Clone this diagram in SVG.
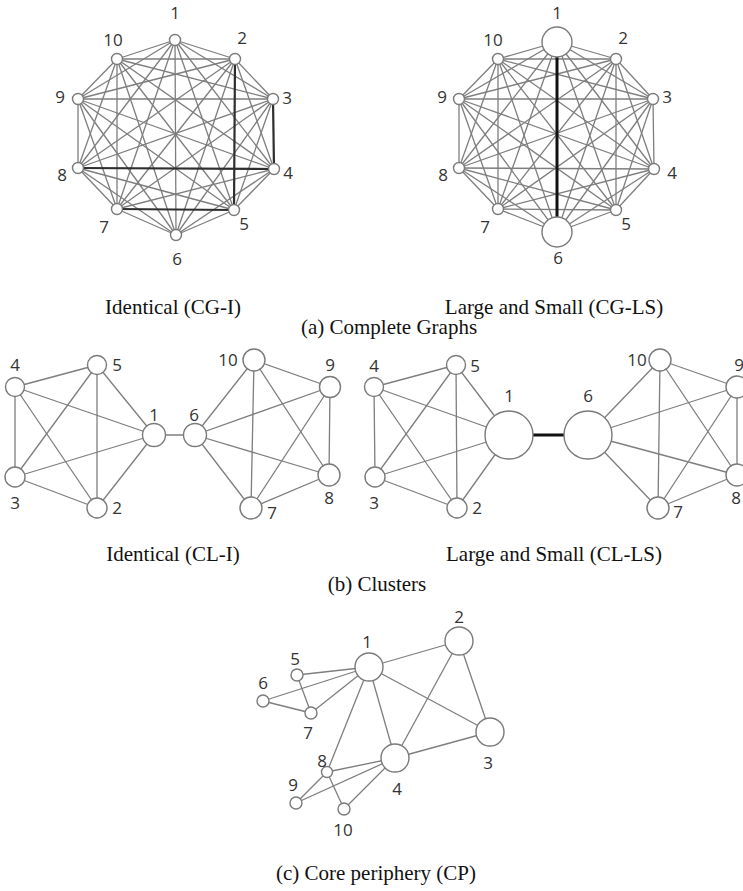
<svg xmlns="http://www.w3.org/2000/svg" width="743" height="891" viewBox="0 0 743 891">
<style>
  .e{stroke:#7e7e7e;stroke-width:1.3;fill:none}
  .ed{stroke:#2e2e2e;stroke-width:2.2;fill:none}
  .eb{stroke:#111;stroke-width:3;fill:none}
  .n{fill:#fff;stroke:#7a7a7a;stroke-width:1.4}
  .lb{font-family:"Open Sans","DejaVu Sans",sans-serif;font-size:17px;fill:#333;text-anchor:middle}
  .cap{font-family:"Liberation Serif","Times New Roman",serif;font-size:21px;fill:#111;text-anchor:middle}
</style>
<rect width="743" height="891" fill="#fff"/>

<!-- (a) complete graph, identical nodes -->
<g id="cgi-edges">
  <line class="e" x1="175" y1="40" x2="235" y2="59"/>
  <line class="e" x1="175" y1="40" x2="273" y2="99"/>
  <line class="e" x1="175" y1="40" x2="274" y2="169"/>
  <line class="e" x1="175" y1="40" x2="234" y2="210"/>
  <line class="e" x1="175" y1="40" x2="176" y2="235"/>
  <line class="e" x1="175" y1="40" x2="117" y2="209"/>
  <line class="e" x1="175" y1="40" x2="78" y2="168"/>
  <line class="e" x1="175" y1="40" x2="78" y2="99"/>
  <line class="e" x1="175" y1="40" x2="117" y2="59"/>
  <line class="e" x1="235" y1="59" x2="273" y2="99"/>
  <line class="e" x1="235" y1="59" x2="274" y2="169"/>
  <line class="e" x1="235" y1="59" x2="176" y2="235"/>
  <line class="e" x1="235" y1="59" x2="117" y2="209"/>
  <line class="e" x1="235" y1="59" x2="78" y2="168"/>
  <line class="e" x1="235" y1="59" x2="78" y2="99"/>
  <line class="e" x1="235" y1="59" x2="117" y2="59"/>
  <line class="e" x1="273" y1="99" x2="234" y2="210"/>
  <line class="e" x1="273" y1="99" x2="176" y2="235"/>
  <line class="e" x1="273" y1="99" x2="117" y2="209"/>
  <line class="e" x1="273" y1="99" x2="78" y2="168"/>
  <line class="e" x1="273" y1="99" x2="78" y2="99"/>
  <line class="e" x1="273" y1="99" x2="117" y2="59"/>
  <line class="e" x1="274" y1="169" x2="234" y2="210"/>
  <line class="e" x1="274" y1="169" x2="176" y2="235"/>
  <line class="e" x1="274" y1="169" x2="117" y2="209"/>
  <line class="e" x1="274" y1="169" x2="78" y2="99"/>
  <line class="e" x1="274" y1="169" x2="117" y2="59"/>
  <line class="e" x1="234" y1="210" x2="176" y2="235"/>
  <line class="e" x1="234" y1="210" x2="78" y2="168"/>
  <line class="e" x1="234" y1="210" x2="78" y2="99"/>
  <line class="e" x1="234" y1="210" x2="117" y2="59"/>
  <line class="e" x1="176" y1="235" x2="117" y2="209"/>
  <line class="e" x1="176" y1="235" x2="78" y2="168"/>
  <line class="e" x1="176" y1="235" x2="78" y2="99"/>
  <line class="e" x1="176" y1="235" x2="117" y2="59"/>
  <line class="e" x1="117" y1="209" x2="78" y2="168"/>
  <line class="e" x1="117" y1="209" x2="78" y2="99"/>
  <line class="e" x1="117" y1="209" x2="117" y2="59"/>
  <line class="e" x1="78" y1="168" x2="78" y2="99"/>
  <line class="e" x1="78" y1="168" x2="117" y2="59"/>
  <line class="e" x1="78" y1="99" x2="117" y2="59"/>
  <line class="ed" x1="235" y1="59" x2="234" y2="210"/>
  <line class="ed" x1="273" y1="99" x2="274" y2="169"/>
  <line class="ed" x1="274" y1="169" x2="78" y2="168"/>
  <line class="ed" x1="234" y1="210" x2="117" y2="209"/>
</g>
<g id="cgi-n1"><circle class="n" cx="175" cy="40" r="5.5"/><text class="lb" x="175" y="19">1</text></g>
<g id="cgi-n2"><circle class="n" cx="235" cy="59" r="5.5"/><text class="lb" x="242" y="44">2</text></g>
<g id="cgi-n3"><circle class="n" cx="273" cy="99" r="5.5"/><text class="lb" x="287" y="104">3</text></g>
<g id="cgi-n4"><circle class="n" cx="274" cy="169" r="5.5"/><text class="lb" x="288" y="179">4</text></g>
<g id="cgi-n5"><circle class="n" cx="234" cy="210" r="5.5"/><text class="lb" x="244" y="230">5</text></g>
<g id="cgi-n6"><circle class="n" cx="176" cy="235" r="5.5"/><text class="lb" x="177" y="265">6</text></g>
<g id="cgi-n7"><circle class="n" cx="117" cy="209" r="5.5"/><text class="lb" x="104" y="233">7</text></g>
<g id="cgi-n8"><circle class="n" cx="78" cy="168" r="5.5"/><text class="lb" x="62" y="181">8</text></g>
<g id="cgi-n9"><circle class="n" cx="78" cy="99" r="5.5"/><text class="lb" x="60" y="103">9</text></g>
<g id="cgi-n10"><circle class="n" cx="117" cy="59" r="5.5"/><text class="lb" x="113" y="46">10</text></g>

<!-- (a) complete graph, large and small nodes -->
<g id="cgls-edges">
  <line class="e" x1="557" y1="42" x2="616" y2="59"/>
  <line class="e" x1="557" y1="42" x2="653" y2="99"/>
  <line class="e" x1="557" y1="42" x2="654" y2="169"/>
  <line class="e" x1="557" y1="42" x2="616" y2="210"/>
  <line class="e" x1="557" y1="42" x2="498" y2="209"/>
  <line class="e" x1="557" y1="42" x2="459" y2="168"/>
  <line class="e" x1="557" y1="42" x2="459" y2="99"/>
  <line class="e" x1="557" y1="42" x2="498" y2="59"/>
  <line class="e" x1="616" y1="59" x2="653" y2="99"/>
  <line class="e" x1="616" y1="59" x2="654" y2="169"/>
  <line class="e" x1="616" y1="59" x2="616" y2="210"/>
  <line class="e" x1="616" y1="59" x2="557" y2="232"/>
  <line class="e" x1="616" y1="59" x2="498" y2="209"/>
  <line class="e" x1="616" y1="59" x2="459" y2="168"/>
  <line class="e" x1="616" y1="59" x2="459" y2="99"/>
  <line class="e" x1="616" y1="59" x2="498" y2="59"/>
  <line class="e" x1="653" y1="99" x2="654" y2="169"/>
  <line class="e" x1="653" y1="99" x2="616" y2="210"/>
  <line class="e" x1="653" y1="99" x2="557" y2="232"/>
  <line class="e" x1="653" y1="99" x2="498" y2="209"/>
  <line class="e" x1="653" y1="99" x2="459" y2="168"/>
  <line class="e" x1="653" y1="99" x2="459" y2="99"/>
  <line class="e" x1="653" y1="99" x2="498" y2="59"/>
  <line class="e" x1="654" y1="169" x2="616" y2="210"/>
  <line class="e" x1="654" y1="169" x2="557" y2="232"/>
  <line class="e" x1="654" y1="169" x2="498" y2="209"/>
  <line class="e" x1="654" y1="169" x2="459" y2="168"/>
  <line class="e" x1="654" y1="169" x2="459" y2="99"/>
  <line class="e" x1="654" y1="169" x2="498" y2="59"/>
  <line class="e" x1="616" y1="210" x2="557" y2="232"/>
  <line class="e" x1="616" y1="210" x2="498" y2="209"/>
  <line class="e" x1="616" y1="210" x2="459" y2="168"/>
  <line class="e" x1="616" y1="210" x2="459" y2="99"/>
  <line class="e" x1="616" y1="210" x2="498" y2="59"/>
  <line class="e" x1="557" y1="232" x2="498" y2="209"/>
  <line class="e" x1="557" y1="232" x2="459" y2="168"/>
  <line class="e" x1="557" y1="232" x2="459" y2="99"/>
  <line class="e" x1="557" y1="232" x2="498" y2="59"/>
  <line class="e" x1="498" y1="209" x2="459" y2="168"/>
  <line class="e" x1="498" y1="209" x2="459" y2="99"/>
  <line class="e" x1="498" y1="209" x2="498" y2="59"/>
  <line class="e" x1="459" y1="168" x2="459" y2="99"/>
  <line class="e" x1="459" y1="168" x2="498" y2="59"/>
  <line class="e" x1="459" y1="99" x2="498" y2="59"/>
  <line class="eb" x1="557" y1="42" x2="557" y2="232"/>
</g>
<g id="cgls-n1"><circle class="n" cx="557" cy="42" r="15"/><text class="lb" x="557" y="19">1</text></g>
<g id="cgls-n2"><circle class="n" cx="616" cy="59" r="5.5"/><text class="lb" x="623" y="44">2</text></g>
<g id="cgls-n3"><circle class="n" cx="653" cy="99" r="5.5"/><text class="lb" x="667" y="103">3</text></g>
<g id="cgls-n4"><circle class="n" cx="654" cy="169" r="5.5"/><text class="lb" x="672" y="179">4</text></g>
<g id="cgls-n5"><circle class="n" cx="616" cy="210" r="5.5"/><text class="lb" x="626" y="230">5</text></g>
<g id="cgls-n6"><circle class="n" cx="557" cy="232" r="15"/><text class="lb" x="558" y="264">6</text></g>
<g id="cgls-n7"><circle class="n" cx="498" cy="209" r="5.5"/><text class="lb" x="485" y="233">7</text></g>
<g id="cgls-n8"><circle class="n" cx="459" cy="168" r="5.5"/><text class="lb" x="443" y="181">8</text></g>
<g id="cgls-n9"><circle class="n" cx="459" cy="99" r="5.5"/><text class="lb" x="442" y="103">9</text></g>
<g id="cgls-n10"><circle class="n" cx="498" cy="59" r="5.5"/><text class="lb" x="493" y="46">10</text></g>

<text class="cap" x="173" y="314">Identical (CG-I)</text>
<text class="cap" x="554" y="314">Large and Small (CG-LS)</text>
<text class="cap" x="389" y="334">(a) Complete Graphs</text>

<!-- (b) clusters, identical nodes -->
<g id="cli-edges">
  <line class="e" x1="15" y1="387" x2="97" y2="365"/>
  <line class="e" x1="15" y1="387" x2="154" y2="435"/>
  <line class="e" x1="15" y1="387" x2="15" y2="477"/>
  <line class="e" x1="15" y1="387" x2="97" y2="508"/>
  <line class="e" x1="97" y1="365" x2="154" y2="435"/>
  <line class="e" x1="97" y1="365" x2="15" y2="477"/>
  <line class="e" x1="97" y1="365" x2="97" y2="508"/>
  <line class="e" x1="15" y1="477" x2="154" y2="435"/>
  <line class="e" x1="15" y1="477" x2="97" y2="508"/>
  <line class="e" x1="97" y1="508" x2="154" y2="435"/>
  <line class="e" x1="154" y1="435" x2="195" y2="435"/>
  <line class="e" x1="254" y1="360" x2="330" y2="387"/>
  <line class="e" x1="254" y1="360" x2="195" y2="435"/>
  <line class="e" x1="254" y1="360" x2="251" y2="508"/>
  <line class="e" x1="254" y1="360" x2="329" y2="475"/>
  <line class="e" x1="330" y1="387" x2="195" y2="435"/>
  <line class="e" x1="330" y1="387" x2="251" y2="508"/>
  <line class="e" x1="330" y1="387" x2="329" y2="475"/>
  <line class="e" x1="195" y1="435" x2="329" y2="475"/>
  <line class="e" x1="195" y1="435" x2="251" y2="508"/>
  <line class="e" x1="251" y1="508" x2="329" y2="475"/>
</g>
<g id="cli-n4"><circle class="n" cx="15" cy="387" r="9.5"/><text class="lb" x="15" y="371">4</text></g>
<g id="cli-n5"><circle class="n" cx="97" cy="365" r="9.5"/><text class="lb" x="117" y="371">5</text></g>
<g id="cli-n1"><circle class="n" cx="154" cy="435" r="11.5"/><text class="lb" x="154" y="421">1</text></g>
<g id="cli-n6"><circle class="n" cx="195" cy="435" r="11.5"/><text class="lb" x="194" y="421">6</text></g>
<g id="cli-n10"><circle class="n" cx="254" cy="360" r="11"/><text class="lb" x="228" y="366">10</text></g>
<g id="cli-n9"><circle class="n" cx="330" cy="387" r="10.5"/><text class="lb" x="330" y="371">9</text></g>
<g id="cli-n3"><circle class="n" cx="15" cy="477" r="10"/><text class="lb" x="15" y="509">3</text></g>
<g id="cli-n2"><circle class="n" cx="97" cy="508" r="10"/><text class="lb" x="117" y="514">2</text></g>
<g id="cli-n7"><circle class="n" cx="251" cy="508" r="11"/><text class="lb" x="272" y="519">7</text></g>
<g id="cli-n8"><circle class="n" cx="329" cy="475" r="11"/><text class="lb" x="329" y="504">8</text></g>

<!-- (b) clusters, large and small nodes -->
<g id="clls-edges">
  <line class="e" x1="374" y1="387" x2="456" y2="365"/>
  <line class="e" x1="374" y1="387" x2="509" y2="435"/>
  <line class="e" x1="374" y1="387" x2="375" y2="477"/>
  <line class="e" x1="374" y1="387" x2="457" y2="508"/>
  <line class="e" x1="456" y1="365" x2="509" y2="435"/>
  <line class="e" x1="456" y1="365" x2="375" y2="477"/>
  <line class="e" x1="456" y1="365" x2="457" y2="508"/>
  <line class="e" x1="375" y1="477" x2="509" y2="435"/>
  <line class="e" x1="375" y1="477" x2="457" y2="508"/>
  <line class="e" x1="457" y1="508" x2="509" y2="435"/>
  <line class="e" x1="660" y1="360" x2="737" y2="387"/>
  <line class="e" x1="660" y1="360" x2="588" y2="435"/>
  <line class="e" x1="660" y1="360" x2="658" y2="508"/>
  <line class="e" x1="660" y1="360" x2="737" y2="475"/>
  <line class="e" x1="737" y1="387" x2="588" y2="435"/>
  <line class="e" x1="737" y1="387" x2="658" y2="508"/>
  <line class="e" x1="737" y1="387" x2="737" y2="475"/>
  <line class="e" x1="588" y1="435" x2="737" y2="475"/>
  <line class="e" x1="588" y1="435" x2="658" y2="508"/>
  <line class="e" x1="658" y1="508" x2="737" y2="475"/>
  <line class="eb" x1="509" y1="435" x2="588" y2="435"/>
</g>
<g id="clls-n4"><circle class="n" cx="374" cy="387" r="9.5"/><text class="lb" x="374" y="372">4</text></g>
<g id="clls-n5"><circle class="n" cx="456" cy="365" r="9.5"/><text class="lb" x="475" y="372">5</text></g>
<g id="clls-n1"><circle class="n" cx="509" cy="435" r="24"/><text class="lb" x="509" y="402">1</text></g>
<g id="clls-n6"><circle class="n" cx="588" cy="435" r="24"/><text class="lb" x="588" y="402">6</text></g>
<g id="clls-n10"><circle class="n" cx="660" cy="360" r="11"/><text class="lb" x="637" y="366">10</text></g>
<g id="clls-n9"><circle class="n" cx="737" cy="387" r="11"/><text class="lb" x="739" y="371">9</text></g>
<g id="clls-n3"><circle class="n" cx="375" cy="477" r="10"/><text class="lb" x="374" y="509">3</text></g>
<g id="clls-n2"><circle class="n" cx="457" cy="508" r="10"/><text class="lb" x="477" y="514">2</text></g>
<g id="clls-n7"><circle class="n" cx="658" cy="508" r="11"/><text class="lb" x="678" y="518">7</text></g>
<g id="clls-n8"><circle class="n" cx="737" cy="475" r="11"/><text class="lb" x="736" y="504">8</text></g>

<text class="cap" x="173" y="561">Identical (CL-I)</text>
<text class="cap" x="554" y="561">Large and Small (CL-LS)</text>
<text class="cap" x="377" y="591">(b) Clusters</text>

<!-- (c) core periphery -->
<g id="cp-edges">
  <line class="e" x1="369" y1="667" x2="459" y2="641"/>
  <line class="e" x1="369" y1="667" x2="490" y2="732"/>
  <line class="e" x1="369" y1="667" x2="395" y2="758"/>
  <line class="e" x1="369" y1="667" x2="297" y2="675"/>
  <line class="e" x1="369" y1="667" x2="263" y2="701"/>
  <line class="e" x1="369" y1="667" x2="311" y2="713"/>
  <line class="e" x1="369" y1="667" x2="327" y2="772"/>
  <line class="e" x1="459" y1="641" x2="490" y2="732"/>
  <line class="e" x1="459" y1="641" x2="395" y2="758"/>
  <line class="e" x1="490" y1="732" x2="395" y2="758"/>
  <line class="e" x1="297" y1="675" x2="311" y2="713"/>
  <line class="e" x1="263" y1="701" x2="311" y2="713"/>
  <line class="e" x1="395" y1="758" x2="327" y2="772"/>
  <line class="e" x1="395" y1="758" x2="296" y2="803"/>
  <line class="e" x1="395" y1="758" x2="344" y2="809"/>
  <line class="e" x1="327" y1="772" x2="296" y2="803"/>
  <line class="e" x1="327" y1="772" x2="344" y2="809"/>
</g>
<g id="cp-n1"><circle class="n" cx="369" cy="667" r="14"/><text class="lb" x="367" y="648">1</text></g>
<g id="cp-n2"><circle class="n" cx="459" cy="641" r="14"/><text class="lb" x="459" y="623">2</text></g>
<g id="cp-n3"><circle class="n" cx="490" cy="732" r="14"/><text class="lb" x="488" y="769">3</text></g>
<g id="cp-n4"><circle class="n" cx="395" cy="758" r="14"/><text class="lb" x="397" y="795">4</text></g>
<g id="cp-n5"><circle class="n" cx="297" cy="675" r="6"/><text class="lb" x="295" y="665">5</text></g>
<g id="cp-n6"><circle class="n" cx="263" cy="701" r="6"/><text class="lb" x="263" y="689">6</text></g>
<g id="cp-n7"><circle class="n" cx="311" cy="713" r="6"/><text class="lb" x="308" y="739">7</text></g>
<g id="cp-n8"><circle class="n" cx="327" cy="772" r="5.5"/><text class="lb" x="322" y="767">8</text></g>
<g id="cp-n9"><circle class="n" cx="296" cy="803" r="6"/><text class="lb" x="293" y="791">9</text></g>
<g id="cp-n10"><circle class="n" cx="344" cy="809" r="6"/><text class="lb" x="343" y="836">10</text></g>

<text class="cap" x="376" y="880">(c) Core periphery (CP)</text>
</svg>
